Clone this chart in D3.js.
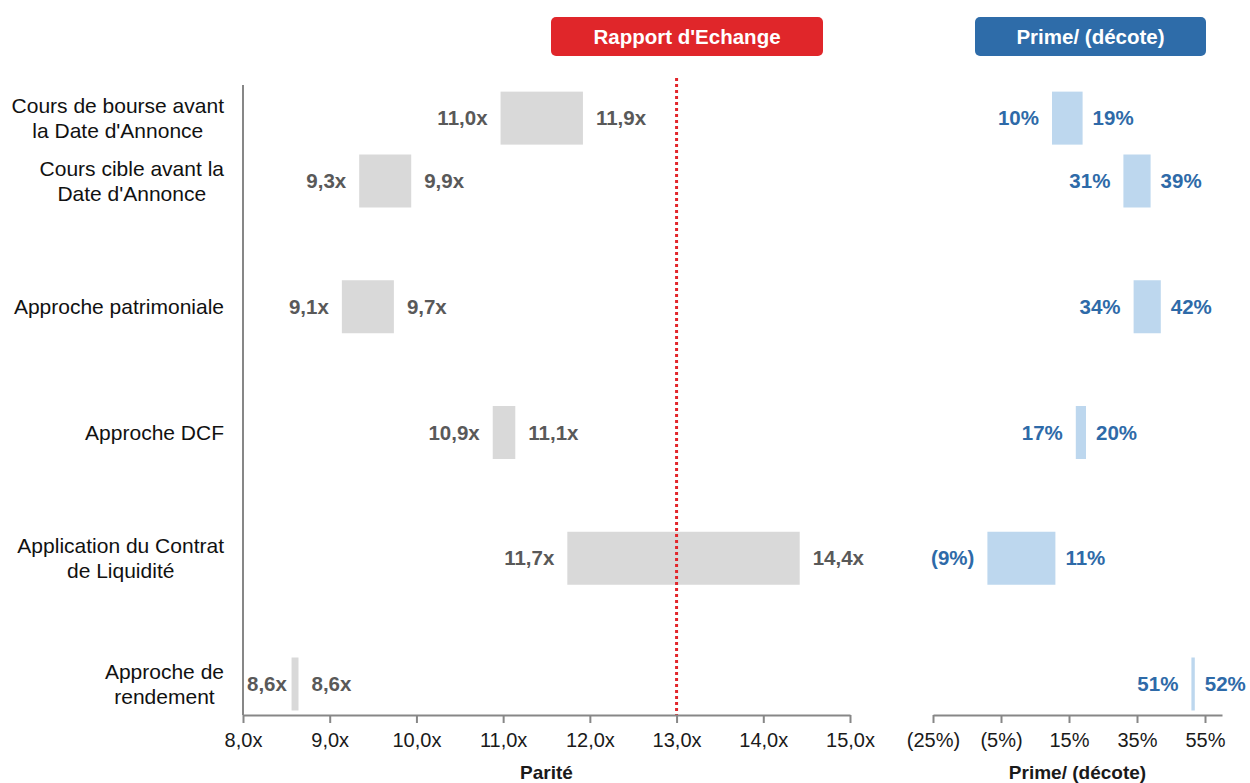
<!DOCTYPE html>
<html>
<head>
<meta charset="utf-8">
<script src="https://cdn.jsdelivr.net/npm/d3@7"></script>
<style>
  html, body { margin: 0; padding: 0; background: #fff; }
  svg { display: block; font-family: "Liberation Sans", Arial, sans-serif; }
</style>
</head>
<body>
<svg id="chart" width="1250" height="783"></svg>
<script>
// Valuation methods (one row each); multi-line labels split by "\n"
const categories = [
  "Cours de bourse avant\nla Date d'Annonce",
  "Cours cible avant la\nDate d'Annonce",
  "Approche patrimoniale",
  "Approche DCF",
  "Application du Contrat\nde Liquidité",
  "Approche de\nrendement"
];
// Vertical slot of each row (first row sits half a slot above the second)
const rowSlots = [0.5, 1, 2, 3, 4, 5];

// Implied parity range (low / high), shown with one decimal
const parityLow  = [10.97, 9.34, 9.14, 10.88, 11.74, 8.56];
const parityHigh = [11.92, 9.94, 9.74, 11.14, 14.42, 8.64];

// Premium / (discount) range in %
const premiumLow  = [10, 31, 34, 17, -9, 51];
const premiumHigh = [19, 39, 42, 20, 11, 52];

// Exchange ratio retained
const exchangeRatio = 13.0;

// Axis ticks
const parityTicks  = [8, 9, 10, 11, 12, 13, 14, 15];
const premiumTicks = [-25, -5, 15, 35, 55];

const svg = d3.select("#chart");

const xL = d3.scaleLinear().domain([8, 15]).range([243, 850]);
const xR = d3.scaleLinear().domain([-25, 60]).range([933, 1222]);
const y  = d3.scaleLinear().domain([1, 5]).range([181, 684]);
const barH = 53;
const axisY = 715;

const fmtParity  = v => v.toFixed(1).replace(".", ",") + "x";
const fmtPremium = v => v < 0 ? "(" + Math.abs(Math.round(v)) + "%)" : Math.round(v) + "%";

const axisColor = "#878787";
const grayBar = "#d9d9d9";
const blueBar = "#bdd7ee";
const grayText = "#595959";
const blueText = "#2e6aa8";
const red = "#e2262b";

// Header boxes
const headers = [
  { text: "Rapport d'Echange", x0: 551, x1: 823, color: "#e0262a" },
  { text: "Prime/ (décote)", x0: 975, x1: 1206, color: "#2e6ca9" }
];
const hg = svg.append("g");
headers.forEach(h => {
  hg.append("rect")
    .attr("x", h.x0).attr("y", 17)
    .attr("width", h.x1 - h.x0).attr("height", 39)
    .attr("rx", 5).attr("fill", h.color);
  hg.append("text")
    .attr("x", (h.x0 + h.x1) / 2).attr("y", 36.5)
    .attr("dy", "0.35em")
    .attr("text-anchor", "middle")
    .attr("fill", "#fff")
    .attr("font-weight", "bold")
    .attr("font-size", 20.5)
    .text(h.text);
});

// Category labels: block right-aligned, lines centered within block
const lineH = 25;
categories.forEach((c, i) => {
  const lines = c.split("\n");
  const cy = y(rowSlots[i]);
  const g = svg.append("g");
  const texts = lines.map((ln, j) => g.append("text")
    .attr("y", cy + (j - (lines.length - 1) / 2) * lineH)
    .attr("dy", "0.35em")
    .attr("font-size", 21)
    .attr("fill", "#111")
    .attr("text-anchor", "middle")
    .text(ln));
  const w = d3.max(texts, t => t.node().getComputedTextLength());
  texts.forEach(t => t.attr("x", 224 - w / 2));
});

// Parity bars
const left = svg.append("g");
left.selectAll("rect.bar")
  .data(categories)
  .join("rect")
  .attr("class", "bar")
  .attr("x", (d, i) => xL(parityLow[i]))
  .attr("width", (d, i) => xL(parityHigh[i]) - xL(parityLow[i]))
  .attr("y", (d, i) => y(rowSlots[i]) - barH / 2)
  .attr("height", barH)
  .attr("fill", grayBar);

categories.forEach((d, i) => {
  const cy = y(rowSlots[i]);
  const lo = left.append("text")
    .attr("y", cy).attr("dy", "0.35em")
    .attr("font-size", 20.5).attr("font-weight", "bold")
    .attr("fill", grayText)
    .attr("text-anchor", "end")
    .text(fmtParity(parityLow[i]));
  const lw = lo.node().getComputedTextLength();
  lo.attr("x", Math.max(xL(parityLow[i]) - 13, xL(8) + 4 + lw));
  left.append("text")
    .attr("x", xL(parityHigh[i]) + 13)
    .attr("y", cy).attr("dy", "0.35em")
    .attr("font-size", 20.5).attr("font-weight", "bold")
    .attr("fill", grayText)
    .text(fmtParity(parityHigh[i]));
});

// Exchange ratio reference line
svg.append("line")
  .attr("x1", xL(exchangeRatio)).attr("x2", xL(exchangeRatio))
  .attr("y1", 78).attr("y2", axisY)
  .attr("stroke", red).attr("stroke-width", 3)
  .attr("stroke-dasharray", "3,3");

// Left axes
svg.append("line")
  .attr("x1", xL(8)).attr("x2", xL(8))
  .attr("y1", 85).attr("y2", axisY)
  .attr("stroke", axisColor).attr("stroke-width", 2);

const axL = svg.append("g")
  .attr("transform", `translate(0,${axisY})`)
  .call(d3.axisBottom(xL).tickValues(parityTicks).tickFormat(fmtParity)
    .tickSize(8).tickSizeOuter(0).tickPadding(10));

// Premium bars
const right = svg.append("g");
right.selectAll("rect.bar")
  .data(categories)
  .join("rect")
  .attr("class", "bar")
  .attr("x", (d, i) => xR(premiumLow[i]))
  .attr("width", (d, i) => xR(premiumHigh[i]) - xR(premiumLow[i]))
  .attr("y", (d, i) => y(rowSlots[i]) - barH / 2)
  .attr("height", barH)
  .attr("fill", blueBar);

categories.forEach((d, i) => {
  const cy = y(rowSlots[i]);
  right.append("text")
    .attr("x", xR(premiumLow[i]) - 13)
    .attr("y", cy).attr("dy", "0.35em")
    .attr("font-size", 20.5).attr("font-weight", "bold")
    .attr("fill", blueText)
    .attr("text-anchor", "end")
    .text(fmtPremium(premiumLow[i]));
  right.append("text")
    .attr("x", xR(premiumHigh[i]) + 10)
    .attr("y", cy).attr("dy", "0.35em")
    .attr("font-size", 20.5).attr("font-weight", "bold")
    .attr("fill", blueText)
    .text(fmtPremium(premiumHigh[i]));
});

const axR = svg.append("g")
  .attr("transform", `translate(0,${axisY})`)
  .call(d3.axisBottom(xR).tickValues(premiumTicks).tickFormat(fmtPremium)
    .tickSize(8).tickSizeOuter(0).tickPadding(10));

[axL, axR].forEach(ax => {
  ax.select(".domain").attr("stroke", axisColor).attr("stroke-width", 2);
  ax.selectAll(".tick line").attr("stroke", axisColor).attr("stroke-width", 2);
  ax.selectAll(".tick text")
    .attr("font-family", "'Liberation Sans Narrow', 'Liberation Sans', Arial, sans-serif")
    .attr("font-size", 20).attr("fill", "#1a1a1a");
});

// Axis titles
svg.append("text")
  .attr("x", (xL.range()[0] + xL.range()[1]) / 2).attr("y", 772)
  .attr("dy", "0.35em").attr("text-anchor", "middle")
  .attr("font-size", 19).attr("font-weight", "bold").attr("fill", "#1a1a1a")
  .text("Parité");
svg.append("text")
  .attr("x", (xR.range()[0] + xR.range()[1]) / 2).attr("y", 772)
  .attr("dy", "0.35em").attr("text-anchor", "middle")
  .attr("font-size", 19).attr("font-weight", "bold").attr("fill", "#1a1a1a")
  .text("Prime/ (décote)");
</script>
</body>
</html>
